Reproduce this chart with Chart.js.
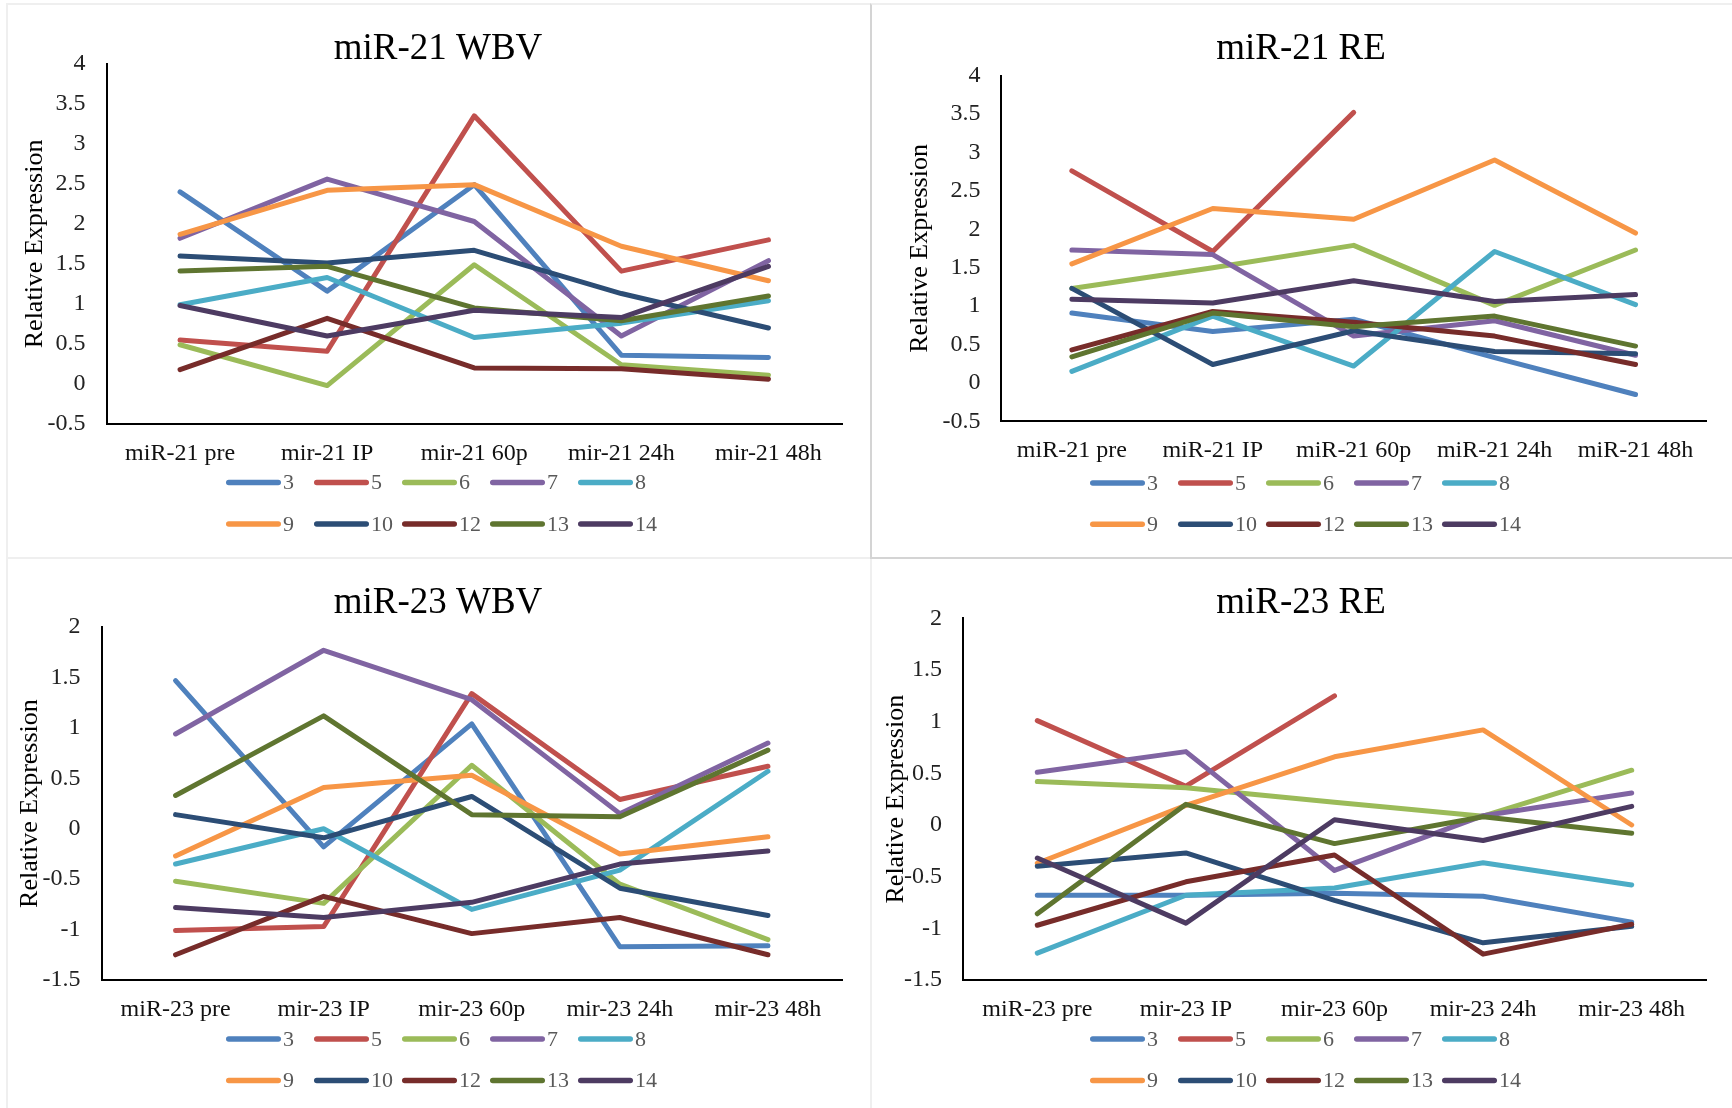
<!DOCTYPE html>
<html>
<head>
<meta charset="utf-8">
<title>miR-21 / miR-23 relative expression</title>
<script src="https://cdn.jsdelivr.net/npm/chart.js@4.4.0/dist/chart.umd.min.js"></script>
<style>
  html, body { margin: 0; padding: 0; background: #ffffff; }
  body { width: 1732px; height: 1108px; position: relative; overflow: hidden; }
  .frame { position: absolute; box-sizing: border-box; }
  .panel { position: absolute; }
  .panel canvas { display: block; }
</style>
</head>
<body>
<!-- panel frames -->
<div class="frame" style="left:6px;top:3px;width:866px;height:556px;border:2px solid #efefef;"></div>
<div class="frame" style="left:6px;top:557px;width:866px;height:551px;border-left:2px solid #efefef;border-top:2px solid #efefef;border-right:2px solid #efefef;"></div>
<div class="frame" style="left:870px;top:3px;width:862px;height:556px;border-top:2px solid #efefef;border-left:2px solid #d4d4d4;border-bottom:2px solid #d4d4d4;"></div>

<div class="panel" style="left:6px;top:3px;"><canvas id="c1" width="864" height="554"></canvas></div>
<div class="panel" style="left:870px;top:3px;"><canvas id="c2" width="862" height="554"></canvas></div>
<div class="panel" style="left:6px;top:557px;"><canvas id="c3" width="864" height="551"></canvas></div>
<div class="panel" style="left:870px;top:557px;"><canvas id="c4" width="862" height="551"></canvas></div>

<script>
// Patient series and their colours
const SERIES = ['3', '5', '6', '7', '8', '9', '10', '12', '13', '14'];
const COLORS = ['#4F81BD', '#C0504D', '#9BBB59', '#8064A2', '#4BACC6',
                '#F79646', '#2C4D75', '#772C2A', '#5F7530', '#4D3B62'];

// Time points
const cats21WBV = ['miR-21 pre', 'mir-21 IP', 'mir-21 60p', 'mir-21 24h', 'mir-21 48h'];
const cats21RE  = ['miR-21 pre', 'miR-21 IP', 'miR-21 60p', 'miR-21 24h', 'miR-21 48h'];
const cats23    = ['miR-23 pre', 'mir-23 IP', 'mir-23 60p', 'mir-23 24h', 'mir-23 48h'];

// Relative expression, one row per series (same order as SERIES)
const miR21WBV = [
  [2.40, 1.16, 2.49, 0.36, 0.33],
  [0.55, 0.41, 3.35, 1.41, 1.80],
  [0.49, -0.02, 1.49, 0.24, 0.11],
  [1.82, 2.56, 2.03, 0.60, 1.54],
  [0.99, 1.33, 0.58, 0.76, 1.04],
  [1.87, 2.42, 2.49, 1.72, 1.29],
  [1.60, 1.51, 1.67, 1.13, 0.70],
  [0.18, 0.82, 0.20, 0.19, 0.06],
  [1.41, 1.47, 0.95, 0.79, 1.10],
  [0.98, 0.60, 0.92, 0.83, 1.47]
];

const miR21RE = [
  [0.91, 0.67, 0.83, 0.33, -0.15],
  [2.76, 1.71, 3.52, null, null],
  [1.23, 1.50, 1.79, 1.01, 1.73],
  [1.73, 1.67, 0.61, 0.81, 0.36],
  [0.15, 0.87, 0.22, 1.71, 1.02],
  [1.55, 2.27, 2.13, 2.90, 1.95],
  [1.23, 0.24, 0.68, 0.41, 0.38],
  [0.43, 0.93, 0.79, 0.61, 0.24],
  [0.34, 0.91, 0.73, 0.87, 0.48],
  [1.09, 1.04, 1.33, 1.06, 1.15]
];

const miR23WBV = [
  [1.47, -0.18, 1.04, -1.17, -1.16],
  [-1.01, -0.97, 1.34, 0.29, 0.62],
  [-0.52, -0.74, 0.63, -0.55, -1.10],
  [0.94, 1.77, 1.28, 0.15, 0.85],
  [-0.35, 0.00, -0.80, -0.41, 0.57],
  [-0.27, 0.41, 0.53, -0.25, -0.08],
  [0.14, -0.09, 0.32, -0.59, -0.86],
  [-1.25, -0.67, -1.04, -0.88, -1.25],
  [0.33, 1.12, 0.14, 0.12, 0.78],
  [-0.78, -0.88, -0.73, -0.35, -0.22]
];

const miR23RE = [
  [-0.68, -0.68, -0.66, -0.69, -0.94],
  [1.01, 0.375, 1.25, null, null],
  [0.42, 0.36, 0.22, 0.085, 0.53],
  [0.51, 0.71, -0.44, 0.09, 0.31],
  [-1.24, -0.68, -0.61, -0.365, -0.58],
  [-0.37, 0.19, 0.66, 0.92, 0.00],
  [-0.40, -0.27, -0.73, -1.14, -0.98],
  [-0.97, -0.55, -0.29, -1.25, -0.96],
  [-0.86, 0.20, -0.18, 0.08, -0.08],
  [-0.32, -0.95, 0.05, -0.15, 0.18]
];

const FONT = 'Liberation Serif';
Chart.defaults.font.family = FONT;

// Two-row legend laid out on a fixed grid, five entries per row
const gridLegend = {
  id: 'gridLegend',
  afterDraw(chart, args, opts) {
    const ctx = chart.ctx;
    ctx.save();
    ctx.font = '22px "' + FONT + '"';
    ctx.textBaseline = 'middle';
    ctx.textAlign = 'left';
    chart.data.datasets.forEach((ds, i) => {
      const row = Math.floor(i / 5);
      const col = i % 5;
      const x = opts.x + col * opts.step;
      const y = opts.rows[row];
      ctx.strokeStyle = ds.borderColor;
      ctx.lineWidth = 5.5;
      ctx.lineCap = 'round';
      ctx.beginPath();
      ctx.moveTo(x + 2.75, y);
      ctx.lineTo(x + 52.25, y);
      ctx.stroke();
      ctx.fillStyle = '#595959';
      ctx.fillText(ds.label, x + 57, y + 1);
    });
    ctx.restore();
  }
};

function makeChart(id, cfg) {
  return new Chart(document.getElementById(id), {
    type: 'line',
    data: {
      labels: cfg.labels,
      datasets: SERIES.map((name, i) => ({
        label: name,
        data: cfg.values[i],
        order: SERIES.length - i,
        borderColor: COLORS[i],
        backgroundColor: COLORS[i],
        borderWidth: 5,
        pointRadius: 0,
        pointHoverRadius: 0,
        tension: 0,
        fill: false,
        spanGaps: false,
        borderCapStyle: 'round',
        borderJoinStyle: 'round',
        yAxisID: 'y'
      }))
    },
    options: {
      responsive: false,
      animation: false,
      events: [],
      layout: { padding: 0 },
      plugins: {
        legend: { display: false },
        tooltip: { enabled: false },
        title: {
          display: true,
          text: cfg.title,
          color: '#000000',
          font: { family: FONT, size: 37, weight: 'normal', lineHeight: 0.8 },
          padding: { top: 31, bottom: cfg.titleGap }
        },
        gridLegend: { x: 220, step: 88, rows: cfg.legendRows }
      },
      scales: {
        x: {
          offset: true,
          grid: { display: false, drawTicks: false },
          border: { display: true, color: '#000000', width: 2 },
          ticks: {
            color: '#111111',
            font: { family: FONT, size: 24 },
            padding: 15,
            maxRotation: 0,
            autoSkip: false
          },
          afterFit(scale) { scale.height = cfg.xHeight; }
        },
        y: {
          min: cfg.min,
          max: cfg.max,
          grid: { display: false, drawTicks: false },
          border: { display: true, color: '#000000', width: 2 },
          ticks: {
            stepSize: 0.5,
            color: '#222222',
            font: { family: FONT, size: 24 },
            padding: 21,
            callback: v => String(v)
          },
          title: {
            display: true,
            text: 'Relative Expression',
            color: '#000000',
            font: { family: FONT, size: 26 },
            padding: { top: cfg.yTitlePad, bottom: 0 }
          },
          afterFit(scale) { scale.width = cfg.yWidth; }
        },
        // empty right-hand margin so the chart title stays centred on the panel
        margin: {
          type: 'linear',
          position: 'right',
          display: true,
          grid: { display: false, drawTicks: false },
          border: { display: false },
          ticks: { display: false },
          afterFit(scale) { scale.width = cfg.padRight; }
        }
      }
    },
    plugins: [gridLegend]
  });
}

makeChart('c1', {
  title: 'miR-21 WBV', labels: cats21WBV, values: miR21WBV, min: -0.5, max: 4,
  titleGap: 0.2, padRight: 28, xHeight: 133, yWidth: 100.5, yTitlePad: 14,
  legendRows: [479.5, 521]
});
makeChart('c2', {
  title: 'miR-21 RE', labels: cats21RE, values: miR21RE, min: -0.5, max: 4,
  titleGap: 11.9, padRight: 26, xHeight: 135.6, yWidth: 131.4, yTitlePad: 35,
  legendRows: [480, 521.3]
});
makeChart('c3', {
  title: 'miR-23 WBV', labels: cats23, values: miR23WBV, min: -1.5, max: 2,
  titleGap: 9.5, padRight: 28, xHeight: 128, yWidth: 95.5, yTitlePad: 9,
  legendRows: [482, 523.6]
});
makeChart('c4', {
  title: 'miR-23 RE', labels: cats23, values: miR23RE, min: -1.5, max: 2,
  titleGap: 0.7, padRight: 26, xHeight: 128, yWidth: 93, yTitlePad: 10.5,
  legendRows: [482, 523.6]
});
</script>
</body>
</html>
